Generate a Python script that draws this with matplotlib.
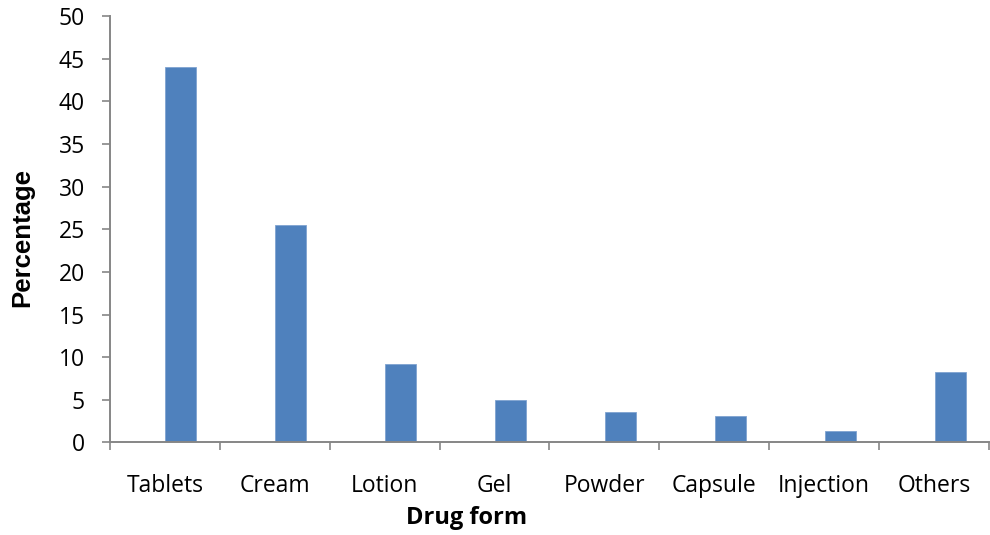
import matplotlib.pyplot as plt
import numpy as np

forms = ['Tablets', 'Cream', 'Lotion', 'Gel', 'Powder', 'Capsule', 'Injection', 'Others']
percent = [44.0, 25.5, 9.2, 5.0, 3.55, 3.1, 1.35, 8.25]

barColor = '#4F81BD'
axisColor = '#868686'

fig = plt.figure(figsize=(9.9, 5.35), dpi=100)
ax = fig.add_axes([0.111, 0.173, 0.888, 0.797])

x = np.arange(len(forms))
# bars sit a bit right of the category centre, as in the original
ax.bar(x + 0.147, percent, width=0.282, color=barColor, edgecolor='#7FA3D0', linewidth=0.6, zorder=2)

ax.set_xlim(-0.5, len(forms) - 0.5)
ax.set_ylim(0, 50)
ax.set_yticks(np.arange(0, 51, 5))

# labels at centres, tick marks on the category boundaries
ax.set_xticks(x)
ax.set_xticklabels(forms, family='Open Sans', fontsize=16.5)
ax.set_xticks(np.arange(-0.5, len(forms), 1), minor=True)
ax.tick_params(axis='x', which='major', length=0, pad=23)
ax.tick_params(axis='x', which='minor', length=6, width=1.2, color=axisColor, direction='out')
ax.tick_params(axis='y', length=6, width=1.2, color=axisColor, pad=12)
for lab in ax.get_yticklabels():
    lab.set_family('Open Sans')
    lab.set_fontsize(16.5)

for side in ['top', 'right']:
    ax.spines[side].set_visible(False)
for side in ['left', 'bottom']:
    ax.spines[side].set_color(axisColor)
    ax.spines[side].set_linewidth(1.4)

ax.set_xlabel('Drug form', family='Open Sans', fontsize=17, fontweight='bold', va='center')
ax.xaxis.set_label_coords(0.406, -0.178)
ax.set_ylabel('Percentage', family='Liberation Sans', fontsize=18.5, fontweight='bold', va='center')
ax.yaxis.set_label_coords(-0.1, 0.48)

fig.savefig('out.png', dpi=100)
